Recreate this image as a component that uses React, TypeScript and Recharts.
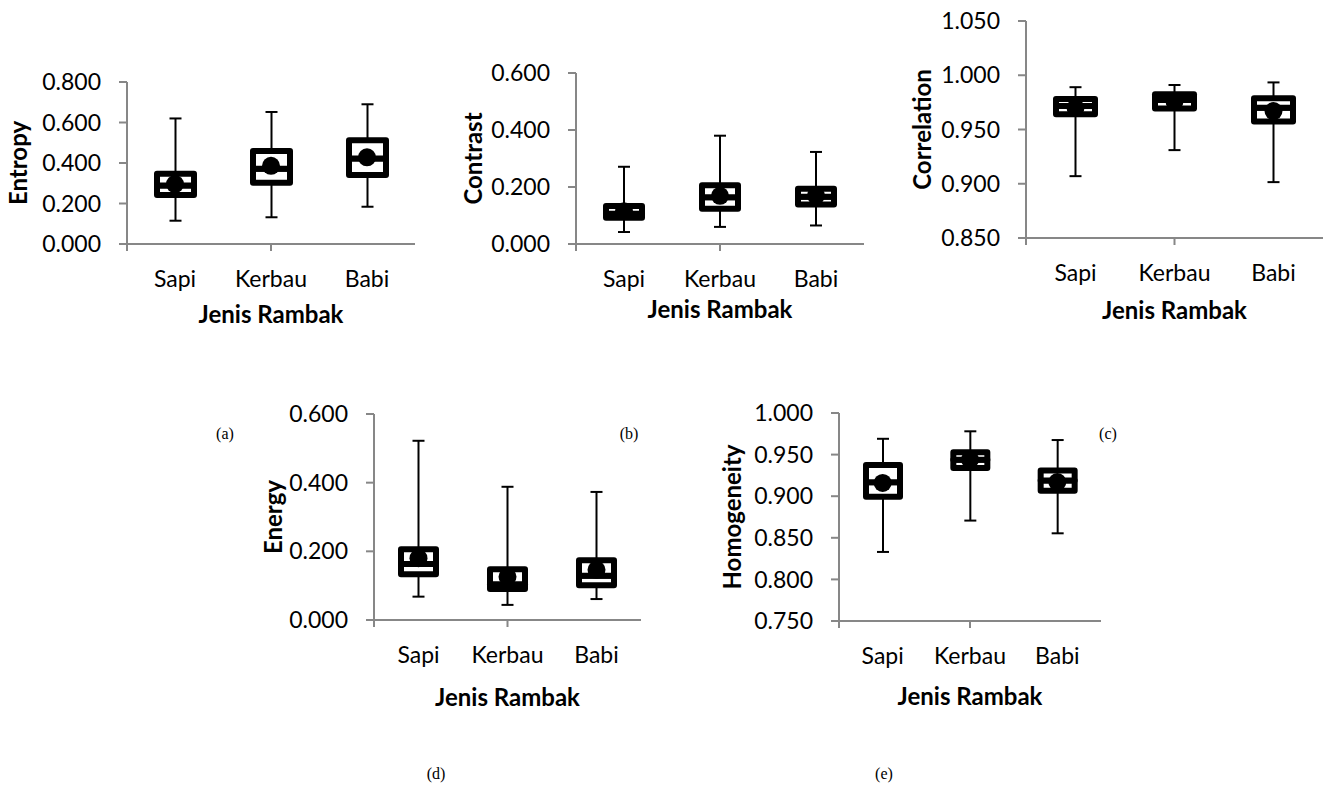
import React from 'react';
import { ComposedChart, Bar, Line, XAxis, YAxis } from 'recharts';

const categories = ['Sapi', 'Kerbau', 'Babi'];

// (a) Entropy
const entropyMin = [0.115, 0.132, 0.184];
const entropyQ1 = [0.242, 0.303, 0.341];
const entropyMedian = [0.289, 0.371, 0.422];
const entropyQ3 = [0.347, 0.459, 0.512];
const entropyMax = [0.62, 0.652, 0.69];
const entropyMean = [0.296, 0.386, 0.428];

// (b) Contrast
const contrastMin = [0.042, 0.06, 0.065];
const contrastQ1 = [0.092, 0.124, 0.139];
const contrastMedian = [0.106, 0.164, 0.166];
const contrastQ3 = [0.133, 0.206, 0.194];
const contrastMax = [0.271, 0.38, 0.323];
const contrastMean = [0.115, 0.169, 0.17];

// (c) Correlation
const correlationMin = [0.907, 0.931, 0.9015];
const correlationQ1 = [0.964, 0.9694, 0.9574];
const correlationMedian = [0.9716, 0.9772, 0.97];
const correlationQ3 = [0.978, 0.9826, 0.9788];
const correlationMax = [0.989, 0.991, 0.9934];
const correlationMean = [0.97, 0.976, 0.967];

// (d) Energy
const energyMin = [0.068, 0.044, 0.061];
const energyQ1 = [0.133, 0.09, 0.101];
const energyMedian = [0.163, 0.104, 0.129];
const energyQ3 = [0.206, 0.148, 0.174];
const energyMax = [0.522, 0.388, 0.373];
const energyMean = [0.18, 0.126, 0.146];

// (e) Homogeneity
const homogeneityMin = [0.833, 0.8707, 0.8554];
const homogeneityQ1 = [0.8993, 0.9339, 0.9067];
const homogeneityMedian = [0.9167, 0.9437, 0.919];
const homogeneityQ3 = [0.9374, 0.9528, 0.9308];
const homogeneityMax = [0.969, 0.978, 0.9675];
const homogeneityMean = [0.916, 0.944, 0.917];

const AXIS_COLOR = '#878787';
const FONT = 'Lato, "Noto Sans", sans-serif';

// stacked bars: hidden base, lower whisker, lower box, upper box, upper whisker
function buildRows(min: number[], q1: number[], med: number[], q3: number[], max: number[], mean: number[]) {
  return categories.map((name, i) => ({
    name,
    base: min[i],
    lowWhisker: q1[i] - min[i],
    lowBox: med[i] - q1[i],
    highBox: q3[i] - med[i],
    highWhisker: max[i] - q3[i],
    mean: mean[i],
  }));
}

const BoxShape = (props: any) => {
  const { x, y, width, height } = props;
  if (height == null || isNaN(height)) return null;
  return (
    <rect
      x={x}
      y={y}
      width={width}
      height={height}
      fill="#fff"
      stroke="#000"
      strokeWidth={6}
      strokeLinejoin="round"
    />
  );
};

const LowWhiskerShape = (props: any) => {
  const { x, y, width, height } = props;
  if (height == null || isNaN(height)) return null;
  const cx = x + width / 2;
  return (
    <g>
      <line x1={cx} x2={cx} y1={y} y2={y + height} stroke="#000" strokeWidth={2} />
      <line x1={cx - 6} x2={cx + 6} y1={y + height} y2={y + height} stroke="#000" strokeWidth={2} />
    </g>
  );
};

const HighWhiskerShape = (props: any) => {
  const { x, y, width, height } = props;
  if (height == null || isNaN(height)) return null;
  const cx = x + width / 2;
  return (
    <g>
      <line x1={cx} x2={cx} y1={y} y2={y + height} stroke="#000" strokeWidth={2} />
      <line x1={cx - 6} x2={cx + 6} y1={y} y2={y} stroke="#000" strokeWidth={2} />
    </g>
  );
};

const NoTick = () => <g />;

interface PanelProps {
  rows: ReturnType<typeof buildRows>;
  plotX: number;
  plotY: number;
  plotW: number;
  plotH: number;
  yLabelX: number;
  yLabel: string;
  domain: [number, number];
  ticks: number[];
  titleGap: number;
  barSize: number;
}

function Panel({ rows, plotX, plotY, plotW, plotH, yLabelX, yLabel, domain, ticks, titleGap, barSize }: PanelProps) {
  const left = yLabelX - 20;
  const yAxisW = plotX - left;
  const marginTop = 15;
  const bottomH = titleGap + 30;
  const width = yAxisW + plotW;
  const height = marginTop + plotH + 1 + bottomH;

  return (
    <div style={{ position: 'absolute', left, top: plotY - marginTop }}>
      <ComposedChart
        width={width}
        height={height}
        data={rows}
        barSize={barSize}
        margin={{ top: marginTop, right: 0, bottom: 0, left: 0 }}
      >
        <XAxis
          xAxisId="cat"
          dataKey="name"
          axisLine={false}
          tickLine={false}
          tickSize={0}
          tickMargin={26}
          interval={0}
          height={bottomH}
          tick={{ fill: '#000', fontSize: 23, fontFamily: FONT }}
          label={{
            value: 'Jenis Rambak',
            position: 'insideBottom',
            offset: bottomH - (titleGap + 17),
            fill: '#000',
            fontSize: 24,
            fontWeight: 700,
            fontFamily: FONT,
          }}
        />
        {/* number axis only for the tick marks between categories */}
        <XAxis
          xAxisId="aEdge"
          type="number"
          domain={[0, 3]}
          ticks={[0, 1, 2, 3]}
          allowDataOverflow
          height={1}
          tick={NoTick}
          tickSize={7}
          stroke={AXIS_COLOR}
          strokeWidth={2}
        />
        <YAxis
          domain={domain}
          ticks={ticks}
          allowDataOverflow
          width={yAxisW}
          tickFormatter={(v: number) => v.toFixed(3)}
          tickSize={8}
          tickMargin={18}
          stroke={AXIS_COLOR}
          strokeWidth={2}
          tick={{ fill: '#000', fontSize: 23, fontFamily: FONT }}
          label={{
            value: yLabel,
            angle: -90,
            position: 'insideLeft',
            offset: 20,
            fill: '#000',
            fontSize: 24,
            fontWeight: 700,
            fontFamily: FONT,
            style: { textAnchor: 'middle' },
          }}
        />
        <Bar xAxisId="cat" dataKey="base" stackId="box" fill="none" isAnimationActive={false} />
        <Bar xAxisId="cat" dataKey="lowWhisker" stackId="box" shape={LowWhiskerShape} isAnimationActive={false} />
        <Bar xAxisId="cat" dataKey="lowBox" stackId="box" shape={BoxShape} isAnimationActive={false} />
        <Bar xAxisId="cat" dataKey="highBox" stackId="box" shape={BoxShape} isAnimationActive={false} />
        <Bar xAxisId="cat" dataKey="highWhisker" stackId="box" shape={HighWhiskerShape} isAnimationActive={false} />
        <Line
          xAxisId="cat"
          dataKey="mean"
          stroke="none"
          dot={{ r: 9, fill: '#000', stroke: '#000', strokeWidth: 0 }}
          activeDot={false}
          isAnimationActive={false}
        />
      </ComposedChart>
    </div>
  );
}

const captionStyle: React.CSSProperties = {
  position: 'absolute',
  width: 40,
  marginLeft: -20,
  textAlign: 'center',
  fontFamily: '"Liberation Serif", "Times New Roman", serif',
  fontSize: 16,
  color: '#000',
  lineHeight: '20px',
};

export default function App() {
  return (
    <div style={{ position: 'absolute', left: 0, top: 0, width: 1330, height: 800, background: '#fff' }}>
      <Panel
        rows={buildRows(entropyMin, entropyQ1, entropyMedian, entropyQ3, entropyMax, entropyMean)}
        plotX={127}
        plotY={82}
        plotW={288}
        plotH={162}
        yLabelX={18}
        yLabel="Entropy"
        domain={[0, 0.8]}
        ticks={[0, 0.2, 0.4, 0.6, 0.8]}
        titleGap={61}
        barSize={37}
      />
      <Panel
        rows={buildRows(contrastMin, contrastQ1, contrastMedian, contrastQ3, contrastMax, contrastMean)}
        plotX={576}
        plotY={73}
        plotW={288}
        plotH={171}
        yLabelX={473}
        yLabel="Contrast"
        domain={[0, 0.6]}
        ticks={[0, 0.2, 0.4, 0.6]}
        titleGap={56}
        barSize={36}
      />
      <Panel
        rows={buildRows(correlationMin, correlationQ1, correlationMedian, correlationQ3, correlationMax, correlationMean)}
        plotX={1026}
        plotY={21}
        plotW={297}
        plotH={217}
        yLabelX={922}
        yLabel="Correlation"
        domain={[0.85, 1.05]}
        ticks={[0.85, 0.9, 0.95, 1.0, 1.05]}
        titleGap={63}
        barSize={39}
      />
      <Panel
        rows={buildRows(energyMin, energyQ1, energyMedian, energyQ3, energyMax, energyMean)}
        plotX={374}
        plotY={414}
        plotW={267}
        plotH={206}
        yLabelX={273}
        yLabel="Energy"
        domain={[0, 0.6]}
        ticks={[0, 0.2, 0.4, 0.6]}
        titleGap={68}
        barSize={35}
      />
      <Panel
        rows={buildRows(homogeneityMin, homogeneityQ1, homogeneityMedian, homogeneityQ3, homogeneityMax, homogeneityMean)}
        plotX={839}
        plotY={413}
        plotW={262}
        plotH={208}
        yLabelX={732}
        yLabel="Homogeneity"
        domain={[0.75, 1.0]}
        ticks={[0.75, 0.8, 0.85, 0.9, 0.95, 1.0]}
        titleGap={66}
        barSize={34}
      />
      <div style={{ ...captionStyle, left: 225, top: 424 }}>(a)</div>
      <div style={{ ...captionStyle, left: 629, top: 424 }}>(b)</div>
      <div style={{ ...captionStyle, left: 1108, top: 424 }}>(c)</div>
      <div style={{ ...captionStyle, left: 436, top: 764 }}>(d)</div>
      <div style={{ ...captionStyle, left: 884, top: 764 }}>(e)</div>
    </div>
  );
}
